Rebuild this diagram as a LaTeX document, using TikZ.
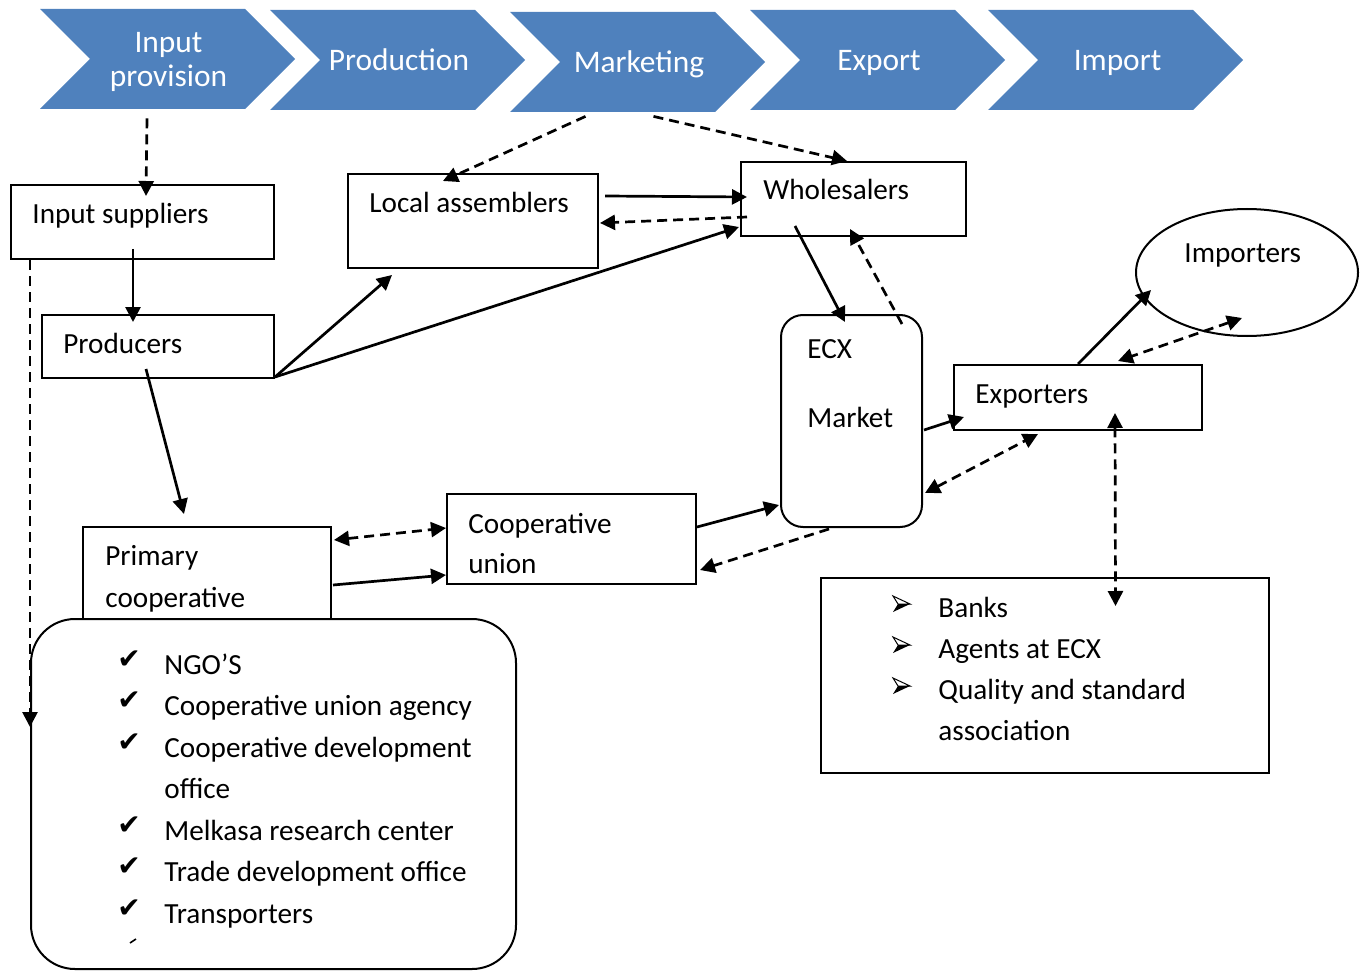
\documentclass[tikz,border=0pt]{standalone}
\usepackage{fontspec}
\setmainfont{Carlito}
\newfontfamily\symfont{DejaVu Sans}
\usetikzlibrary{arrows.meta,fit,shapes.geometric,calc}
\definecolor{chevblue}{HTML}{4F81BD}

% one drawing unit = one pixel of a 1364 x 973 canvas, y pointing down
\tikzset{
  chev/.style={fill=chevblue},
  chevlabel/.style={text=white, font=\fontsize{15.7}{17}\selectfont, align=center,
                    inner sep=0, minimum width=127.5pt, minimum height=50pt},
  box/.style={draw, line width=1pt, inner sep=0},
  lbl/.style={anchor=base west, inner sep=0, font=\fontsize{14.6}{20.6}\selectfont},
  tip/.tip={Triangle[length=7.5pt,width=7.5pt]},
  flow/.style={line width=1.35pt, -tip},
  dflow/.style={flow, dash pattern=on 5pt off 3pt},
  ddflow/.style={line width=1.35pt, dash pattern=on 5pt off 3pt, tip-tip},
}
\newcommand\chevron[2]{% left x, top y of a 255 x 100 chevron
  \fill[chev] (#1,#2) -- (#1+205,#2) -- (#1+255,#2+50) -- (#1+205,#2+100)
              -- (#1,#2+100) -- (#1+50,#2+50) -- cycle;}
\newcommand\tick{\raisebox{3pt}{\symfont\fontsize{14}{14}\selectfont ✔}}

\begin{document}
\begin{tikzpicture}[x=0.5pt,y=-0.5pt]
\useasboundingbox (0,0) rectangle (1364,973);

% value-chain stages
\chevron{40}{9}
\chevron{270}{10}
\chevron{510}{12}
\chevron{750}{10}
\chevron{988}{10}
\node[chevlabel] (inprov) at (168.5,62)  {Input\\provision};
\node[chevlabel] (prodn)  at (399,60)    {Production};
\node[chevlabel] (mkt)    at (639,64)    {Marketing};
\node[chevlabel] (expt)   at (879,63)    {Export};
\node[chevlabel] (impt)   at (1117.5,63) {Import};

% actors
\node[box, fit={(11,185) (274,259)}]  (sup)  {};
\node[box, fit={(348,174) (598,268)}] (lasm) {};
\node[box, fit={(741,162) (966,236)}] (whs)  {};
\node[box, fit={(42,315) (274,378)}]  (prod) {};
\node[box, ellipse, minimum width=111pt, minimum height=63.5pt] (imp) at (1247,272.5) {};
\node[box, rounded corners=11pt, fit={(781,315) (922,527)}] (ecx) {};
\node[box, fit={(954,365) (1202,430)}] (expo) {};
\node[box, fit={(83,527) (331,619)}]   (prim) {};
\node[box, fit={(447,494) (696,584)}]  (cu)   {};
\node[box, fit={(821,578) (1269,773)}] (banks) {};
\node[box, fill=white, rounded corners=22pt, fit={(31,619) (516,969)}] (sprt) {};

% box texts
\node[lbl] (supt)   at (32,224)   {Input suppliers};
\node[lbl] (lasmt)  at (369,213)  {Local assemblers};
\node[lbl] (whst)   at (763,200)  {Wholesalers};
\node[lbl] (prodt)  at (63,353)   {Producers};
\node[lbl] (impt2)  at (1184,263) {Importers};
\node[lbl] (ecxt)   at (807,358)  {ECX};
\node[lbl] (ecxt2)  at (807,427)  {Market};
\node[lbl] (expot)  at (975,403)  {Exporters};
\node[lbl] (primt)  at (105,565)  {Primary};
\node[lbl] (primt2) at (105,607)  {cooperative};
\node[lbl] (cut)    at (468,533)  {Cooperative};
\node[lbl] (cut2)   at (468,573)  {union};

\node[lbl, font=\fontsize{14.6}{20.5}\selectfont] (bankst) at (892,617) {%
  \begin{tabular}[t]{@{}l@{}}
  \makebox[23pt][l]{}Banks\\
  \makebox[23pt][l]{}Agents at ECX\\
  \makebox[23pt][l]{}Quality and standard\\
  \makebox[23pt][l]{}association
  \end{tabular}};
% shaded arrowhead bullets: light upper half, dark lower half
\foreach \dy in {0,41,82}{
  \fill ([shift={(6,\dy-13)}]bankst.base west) -- ([shift={(18,\dy-13)}]bankst.base west)
        -- ([shift={(1,\dy-5)}]bankst.base west) -- cycle;
  \draw[line width=0.5pt, line join=miter]
        ([shift={(1,\dy-21)}]bankst.base west) -- ([shift={(18,\dy-13)}]bankst.base west)
        -- ([shift={(6,\dy-13)}]bankst.base west) -- cycle;
}

\node[lbl, font=\fontsize{14.6}{20.75}\selectfont] (sprtt) at (117,674) {%
  \begin{tabular}[t]{@{}l@{}}
  \makebox[23.5pt][l]{\tick}NGO’S\\
  \makebox[23.5pt][l]{\tick}Cooperative union agency\\
  \makebox[23.5pt][l]{\tick}Cooperative development\\
  \makebox[23.5pt][l]{}office\\
  \makebox[23.5pt][l]{\tick}Melkasa research center\\
  \makebox[23.5pt][l]{\tick}Trade development office\\
  \makebox[23.5pt][l]{\tick}Transporters
  \end{tabular}};
% the clipped top of one more tick mark
\draw[line width=0.8pt] ([shift={(13,269)}]sprtt.base west) -- ++(6,-4);

% flows
\draw[dflow] ([shift={(-21.5,6)}]inprov.south) -- ([shift={(3.5,12)}]sup.north);
\draw[flow]  ([shift={(-9.5,-11)}]sup.south) -- ([shift={(-25,8)}]prod.north);
\draw[dflow] ([shift={(20,0)}]sup.south west) -- ([shift={(0,109)}]sprt.north west);
\draw[flow]  ([shift={(0,-2)}]prod.south east) -- ([shift={(45,6)}]lasm.south west);
\draw[flow]  ([shift={(0,-2)}]prod.south east) -- ([shift={(-1,-10)}]whs.south west);
\draw[flow]  ([shift={(-12,-10)}]prod.south) -- ([shift={(-23,-12)}]prim.north);
\draw[flow]  ([shift={(6,23)}]lasm.north east) -- ([shift={(7,-2)}]whs.west);
\draw[dflow] ([shift={(7,18)}]whs.west) -- ([shift={(1,2)}]lasm.east);
\draw[dflow] ([shift={(-53.5,2)}]mkt.south) -- ([shift={(-30,8)}]lasm.north);
\draw[dflow] ([shift={(14.5,2)}]mkt.south) -- ([shift={(-6.5,0)}]whs.north);
\draw[flow]  ([shift={(-58.5,-11)}]whs.south) -- ([shift={(-6.5,8)}]ecx.north);
\draw[dflow] ([shift={(50.5,10)}]ecx.north) -- ([shift={(-3.5,-8)}]whs.south);
\draw[flow]  ([shift={(1,9)}]ecx.east) -- ([shift={(11,19.5)}]expo.west);
\draw[ddflow] ([shift={(2,72)}]ecx.east) -- ([shift={(-40,3)}]expo.south);
\draw[flow]  (expo.north) -- ([shift={(-96,17.5)}]imp.center);
\draw[ddflow] ([shift={(-5,-19)}]imp.south) -- ([shift={(40,-3)}]expo.north);
\draw[ddflow] ([shift={(37,-18)}]expo.south) -- ([shift={(70.5,29)}]banks.north);
\draw[ddflow] ([shift={(2,-33)}]prim.east) -- ([shift={(0,-11)}]cu.west);
\draw[flow]  ([shift={(1,12)}]prim.east) -- ([shift={(0,36)}]cu.west);
\draw[flow]  ([shift={(0,-12)}]cu.east) -- ([shift={(-1,84)}]ecx.west);
\draw[dflow] ([shift={(-22.5,1)}]ecx.south) -- ([shift={(3,31)}]cu.east);
\end{tikzpicture}
\end{document}
